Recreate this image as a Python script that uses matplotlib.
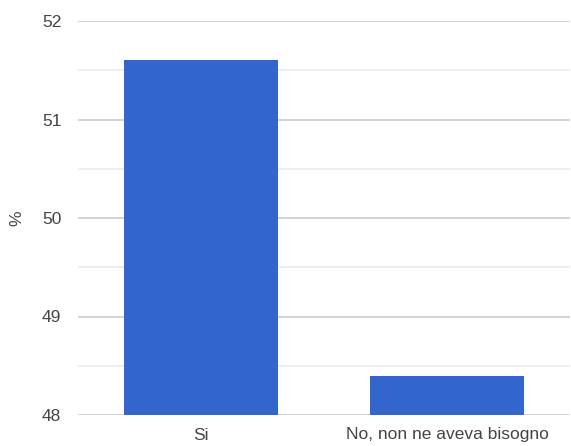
import matplotlib
matplotlib.use("Agg")
import matplotlib.pyplot as plt
from matplotlib.ticker import MultipleLocator

categories = ["Si", "No, non ne aveva bisogno"]
values = [51.6, 48.4]
yticks = [48, 49, 50, 51, 52]

plt.rcParams['font.family'] = ['Liberation Sans', 'DejaVu Sans']

W, H = 571, 446
fig = plt.figure(figsize=(W/100, H/100), dpi=100)
ax = fig.add_axes([78/W, (446-415)/H, (570-78)/W, (415-21)/H])

x = list(range(len(categories)))
ax.bar(x, values, width=0.626, color="#3366CC", zorder=3, bottom=0)
ax.set_xlim(-0.5, len(categories) - 0.5)
ax.set_ylim(48, 52)
ax.set_yticks(yticks)
ax.set_yticklabels([str(t) for t in yticks])
ax.yaxis.set_minor_locator(MultipleLocator(0.5))
ax.grid(axis='y', which='major', color='#cccccc', linewidth=1.2, zorder=0)
ax.grid(axis='y', which='minor', color='#ebebeb', linewidth=1.2, zorder=0)
ax.set_xticks(x)
ax.set_xticklabels(categories)
for s in ax.spines.values():
    s.set_visible(False)
ax.tick_params(axis='both', which='both', length=0, labelsize=12.5, colors='#444444')
ax.tick_params(axis='y', pad=12)
ax.tick_params(axis='x', pad=9)
fig.text(17/W, 1 - 218/H, '%', rotation=90, fontsize=12.5, color='#444444',
         ha='center', va='center')

fig.savefig('out.png', dpi=100)
